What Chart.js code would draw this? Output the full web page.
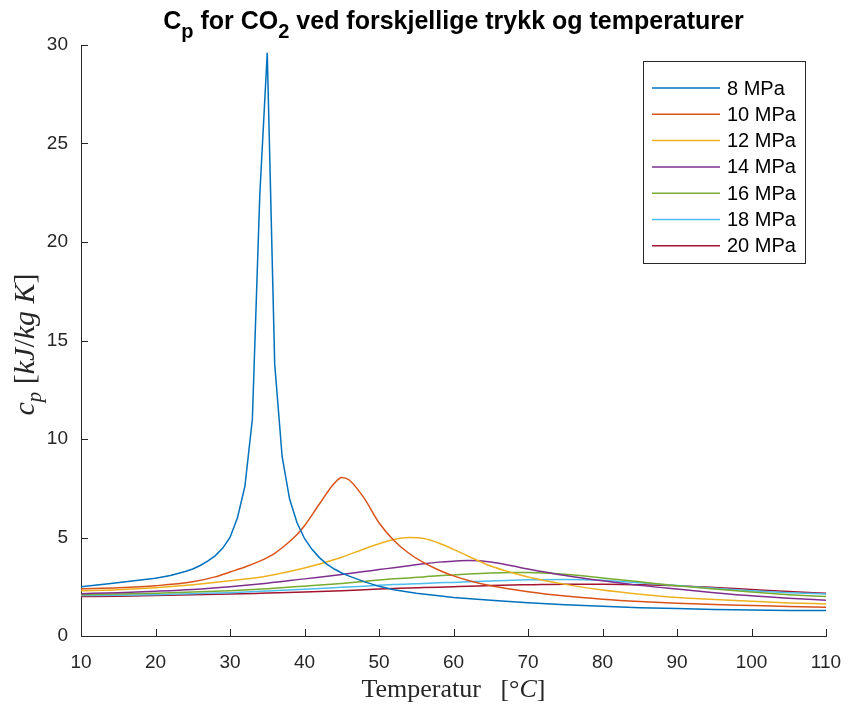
<!DOCTYPE html>
<html>
<head>
<meta charset="utf-8">
<script src="https://cdn.jsdelivr.net/npm/chart.js@4/dist/chart.umd.min.js"></script>
<style>
  html, body { margin: 0; padding: 0; background: #fff; }
</style>
</head>
<body>
<canvas id="cpChart" width="848" height="706"></canvas>
<script>
// temperatures (°C) the curves are tabulated at
var temps8    = [10,14,18,20,22,24,25,26,27,28,29,30,31,32,33,34,35,36,37,38,39,40,41,42,43,44,45,46,48,50,52,55,58,60,65,70,75,80,85,90,95,100,105,110];
var temps10   = [10,15,20,25,28,30,32,34,35,36,37,38,39,40,42,44,45,46,48,50,52,54,56,58,60,62,65,70,75,80,85,90,95,100,105,110];
var tempsHigh = [10,15,20,25,30,35,40,45,48,50,52,54,56,58,60,62,65,68,70,75,80,85,90,95,100,105,110];

// cp in kJ/kg K
var cp8  = [2.5,2.67,2.84,2.93,3.07,3.27,3.4,3.58,3.8,4.07,4.45,5.0,6.0,7.6,11.0,22.4,29.6,13.8,9.1,6.95,5.75,4.95,4.4,3.98,3.65,3.4,3.2,3.04,2.76,2.52,2.35,2.17,2.04,1.96,1.81,1.69,1.59,1.51,1.44,1.39,1.35,1.32,1.3,1.29];
var cp10 = [2.4,2.45,2.55,2.75,3.0,3.25,3.5,3.8,3.98,4.2,4.48,4.8,5.15,5.6,6.7,7.75,8.05,7.92,7.0,5.75,4.85,4.2,3.72,3.35,3.05,2.82,2.55,2.25,2.03,1.87,1.75,1.66,1.6,1.55,1.5,1.46];
var cp12 = [2.3,2.35,2.45,2.6,2.8,3.05,3.45,4.0,4.42,4.68,4.9,5.0,4.95,4.72,4.4,4.05,3.55,3.2,3.0,2.62,2.33,2.12,1.95,1.85,1.76,1.68,1.63];
var cp14 = [2.15,2.2,2.27,2.36,2.5,2.68,2.9,3.12,3.27,3.37,3.47,3.57,3.67,3.75,3.8,3.83,3.76,3.55,3.4,3.07,2.8,2.57,2.38,2.2,2.04,1.92,1.82];
var cp16 = [2.1,2.13,2.17,2.23,2.3,2.4,2.53,2.67,2.77,2.84,2.9,2.95,3.0,3.06,3.1,3.15,3.2,3.22,3.22,3.13,2.95,2.75,2.55,2.38,2.23,2.1,2.0];
var cp18 = [2.05,2.07,2.1,2.15,2.2,2.28,2.37,2.47,2.53,2.57,2.61,2.64,2.67,2.7,2.72,2.75,2.79,2.83,2.85,2.87,2.83,2.7,2.56,2.42,2.3,2.2,2.13];
var cp20 = [2.0,2.02,2.05,2.09,2.13,2.18,2.23,2.3,2.35,2.38,2.41,2.44,2.46,2.48,2.5,2.52,2.56,2.59,2.6,2.63,2.63,2.6,2.55,2.46,2.36,2.26,2.17];

var seriesNames = ['8 MPa','10 MPa','12 MPa','14 MPa','16 MPa','18 MPa','20 MPa'];
var seriesColors = ['#0072BD','#D95319','#EDB120','#7E2F8E','#77AC30','#4DBEEE','#A2142F'];
var xTicks = [10,20,30,40,50,60,70,80,90,100,110];
var yTicks = [0,5,10,15,20,25,30];

var AX = '#262626';
var SANS = '"Liberation Sans", Arial, sans-serif';
var SERIF = '"Liberation Serif", "DejaVu Serif", serif';

function pts(xs, ys) {
  return xs.map(function(x, i){ return {x: x, y: ys[i]}; });
}

var allSeries = [
  pts(temps8, cp8), pts(temps10, cp10),
  pts(tempsHigh, cp12), pts(tempsHigh, cp14), pts(tempsHigh, cp16),
  pts(tempsHigh, cp18), pts(tempsHigh, cp20)
];

var datasets = allSeries.map(function(d, i){
  return {
    label: seriesNames[i],
    data: d,
    borderColor: seriesColors[i],
    backgroundColor: seriesColors[i],
    borderWidth: 1.5,
    pointRadius: 0,
    fill: false,
    // 8 MPa keeps straight segments so the spike stays sharp
    cubicInterpolationMode: i === 0 ? 'default' : 'monotone',
    tension: i === 0 ? 0 : 0.4
  };
});

// draws a run of [text, dy, font] pieces side by side
function drawRuns(ctx, runs, x, y, align) {
  var total = 0;
  runs.forEach(function(r){ ctx.font = r[2]; total += ctx.measureText(r[0]).width; });
  var cx = align === 'center' ? x - total / 2 : x;
  runs.forEach(function(r){
    ctx.font = r[2];
    ctx.fillText(r[0], cx, y + r[1]);
    cx += ctx.measureText(r[0]).width;
  });
}

var decorations = {
  id: 'decorations',
  afterDraw: function(chart) {
    var ctx = chart.ctx;
    var xs = chart.scales.x, ys = chart.scales.y;
    var area = chart.chartArea;
    ctx.save();

    // inward tick marks
    ctx.strokeStyle = AX;
    ctx.lineWidth = 1;
    ctx.beginPath();
    xTicks.forEach(function(v){
      var px = Math.round(xs.getPixelForValue(v)) + 0.5;
      ctx.moveTo(px, area.bottom);
      ctx.lineTo(px, area.bottom - 7);
    });
    yTicks.forEach(function(v){
      var py = Math.round(ys.getPixelForValue(v)) + 0.5;
      ctx.moveTo(area.left, py);
      ctx.lineTo(area.left + 7, py);
    });
    ctx.stroke();

    // title
    ctx.fillStyle = '#000';
    ctx.textBaseline = 'alphabetic';
    ctx.textAlign = 'left';
    var tb = 'bold 25px ' + SANS;
    var ts = 'bold 20px ' + SANS;
    drawRuns(ctx, [
      ['C', 0, tb], ['p', 9, ts], [' for CO', 0, tb], ['2', 9, ts],
      [' ved forskjellige trykk og temperaturer', 0, tb]
    ], (area.left + area.right) / 2, 29, 'center');

    // x axis title
    ctx.fillStyle = AX;
    var rf = '26px ' + SERIF;
    var itf = 'italic 26px ' + SERIF;
    drawRuns(ctx, [
      ['Temperatur', 0, rf], ['   [', 0, rf], ['°', 0, rf], ['C', 0, itf], [']', 0, rf]
    ], (area.left + area.right) / 2, 697, 'center');

    // y axis title, rotated
    ctx.save();
    ctx.translate(34, (area.top + area.bottom) / 2 + 4);
    ctx.rotate(-Math.PI / 2);
    var yr = '30px ' + SERIF;
    var yi = 'italic 30px ' + SERIF;
    var ysub = 'italic 21px ' + SERIF;
    drawRuns(ctx, [
      ['c', 0, yi], ['p', 7, ysub], [' [', 0, yr], ['kJ', 0, yi], ['/', 0, yr],
      ['kg K', 0, yi], [']', 0, yr]
    ], 0, 0, 'center');
    ctx.restore();

    // legend box
    var lx = 643.5, ly = 61.5, lw = 162, lh = 202;
    ctx.fillStyle = '#fff';
    ctx.fillRect(lx, ly, lw, lh);
    ctx.strokeStyle = AX;
    ctx.lineWidth = 1;
    ctx.strokeRect(lx, ly, lw, lh);
    ctx.font = '20px ' + SANS;
    ctx.textBaseline = 'middle';
    chart.data.datasets.forEach(function(ds, i){
      var yy = 88 + i * 26.3;
      ctx.strokeStyle = ds.borderColor;
      ctx.lineWidth = 1.5;
      ctx.beginPath();
      ctx.moveTo(652, yy);
      ctx.lineTo(720, yy);
      ctx.stroke();
      ctx.fillStyle = '#000';
      ctx.fillText(ds.label, 727, yy + 1);
    });
    ctx.restore();
  }
};

var chart = new Chart(document.getElementById('cpChart').getContext('2d'), {
  type: 'line',
  data: { datasets: datasets },
  options: {
    responsive: false,
    animation: false,
    layout: { padding: { top: 45, right: 22, left: 0, bottom: 0 } },
    plugins: {
      legend: { display: false },
      title: { display: false },
      tooltip: { enabled: false }
    },
    scales: {
      x: {
        type: 'linear',
        min: 10, max: 110,
        grid: { display: false, drawTicks: false },
        border: { display: true, color: AX, width: 1 },
        ticks: {
          stepSize: 10, color: AX, padding: 15, maxRotation: 0,
          font: { family: SANS, size: 19 }
        },
        afterFit: function(s) { s.height = 70; s.paddingLeft = 0; s.paddingRight = 0; }
      },
      y: {
        min: 0, max: 30,
        grid: { display: false, drawTicks: false },
        border: { display: true, color: AX, width: 1 },
        ticks: {
          stepSize: 5, color: AX, padding: 13,
          font: { family: SANS, size: 19 }
        },
        afterFit: function(s) { s.width = 81; s.paddingTop = 0; s.paddingBottom = 0; }
      }
    }
  },
  plugins: [decorations]
});
</script>
</body>
</html>
